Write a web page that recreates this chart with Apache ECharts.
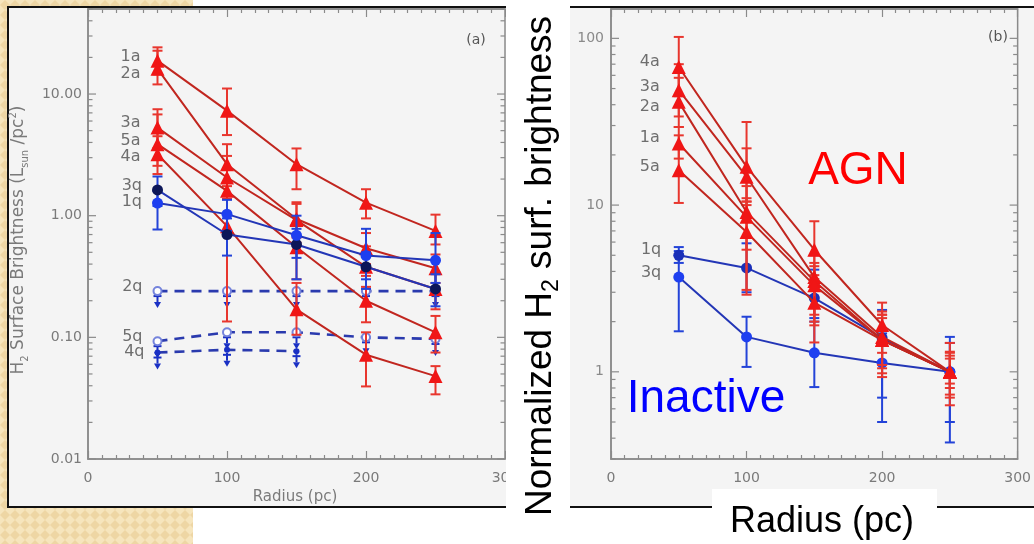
<!DOCTYPE html>
<html><head><meta charset="utf-8">
<script src="https://cdn.jsdelivr.net/npm/echarts@6/dist/echarts.min.js"></script>
<style>html,body{margin:0;padding:0;background:#fff;}#c{width:1034px;height:544px;}</style>
</head><body><div id="c"></div>
<script>
// ---------------- data ----------------
const radius = [50, 100, 150, 200, 250];
const xTickLabels = ['0', '100', '200', '300'];
const yTickLabelsA = ['0.01', '0.10', '1.00', '10.00'];
const yTickLabelsB = ['1', '10', '100'];

// Panel (a): H2 surface brightness (Lsun/pc^2)
const a1a = [18.8, 7.3, 2.65, 1.28, 0.75];
const a1aLo = [14.5, 4.6, 1.65, 0.95, 0.58];
const a1aHi = [24.2, 11.1, 3.57, 1.65, 1.02];
const a2a = [16.1, 2.65, 0.94, 0.54, 0.37];
const a2aLo = [12.0, 1.75, 0.66, 0.40, 0.28];
const a2aHi = [22.7, 3.87, 1.29, 0.72, 0.48];
const a3a = [5.3, 2.06, 0.92, 0.38, 0.25];
const a3aLo = [3.6, 1.37, 0.60, 0.26, 0.17];
const a3aHi = [7.5, 3.1, 1.25, 0.56, 0.34];
const a5a = [3.87, 1.6, 0.55, 0.20, 0.11];
const a5aLo = [2.57, 1.05, 0.30, 0.133, 0.075];
const a5aHi = [6.8, 2.4, 0.85, 0.32, 0.15];
const a4a = [3.2, 0.82, 0.17, 0.072, 0.048];
const a4aLo = [2.2, 0.135, 0.105, 0.0395, 0.034];
const a4aHi = [4.5, 1.37, 0.28, 0.11, 0.058];
const a1q = [1.27, 1.03, 0.69, 0.47, 0.43];
const a1qLo = [0.77, 0.75, 0.45, 0.30, 0.28];
const a1qHi = [1.6, 1.35, 1.0, 0.78, 0.72];
const a3q = [1.63, 0.70, 0.58, 0.38, 0.25];
const a3qLo = [1.2, 0.47, 0.30, 0.25, 0.18];
const a3qHi = [2.1, 0.95, 0.78, 0.50, 0.33];
// upper limits
const a2q = [0.24, 0.24, 0.24, 0.24, 0.24];
const a5q = [0.093, 0.11, 0.11, 0.10, 0.097];
const a4qRadius = [50, 100, 150];
const a4q = [0.075, 0.079, 0.077];

// Panel (b): normalized
const b4a = [67.3, 17, 5.4, 1.91, 1.0];
const b4aLo = [45, 10, 3.6, 1.3, 0.73];
const b4aHi = [102, 31.5, 8, 2.6, 1.32];
const b3a = [48.9, 14.8, 3.7, 1.62, 1.0];
const b3aLo = [34, 10.5, 2.2, 1.1, 0.63];
const b3aHi = [70, 21.9, 5.0, 2.2, 1.49];
const b2a = [41.6, 9.1, 3.5, 1.55, 1.0];
const b2aLo = [29.4, 5.4, 2.0, 0.93, 0.8];
const b2aHi = [58, 13, 4.5, 2.3, 1.25];
const b1a = [23.4, 8.5, 3.3, 1.55, 1.0];
const b1aLo = [19, 3.1, 1.9, 1.05, 0.85];
const b1aHi = [29.4, 11, 4.3, 2.1, 1.2];
const b5a = [16.2, 6.9, 2.6, 1.55, 1.0];
const b5aLo = [10.3, 2.9, 1.5, 0.98, 0.7];
const b5aHi = [26.2, 10.5, 3.8, 2.2, 1.3];
const b1q = [5.0, 4.2, 2.77, 1.6, 1.0];
const b1qLo = [4.5, 3.0, 2.1, 0.7, 0.5];
const b1qHi = [5.6, 5.9, 4.1, 2.35, 1.62];
const b3q = [3.7, 1.62, 1.3, 1.13, 1.0];
const b3qLo = [1.75, 1.07, 0.81, 0.5, 0.377];
const b3qHi = [5.3, 2.14, 2.0, 1.7, 1.49];

// ---------------- styles ----------------
const RED_LINE = '#c1261f', RED_MARK = '#f01616', RED_ERR = '#e8362e';
const BLUE_LINE = '#2336b6', BLUE_MARK = '#1e3ff0', NAVY_MARK = '#0c1658', BLUE_ERR = '#2343d8';
const DASH_BLUE = '#2a3aae', OPEN_BLUE = '#7584dc';
const AXIS_C = '#8a8a8a', TXT_C = '#6e6e6e';
const PANEL_FONT = 'DejaVu Sans';

// ---------------- helpers ----------------
function pts(xs, vs) { return xs.map((x, i) => [x, vs[i]]); }

function errRender(params, api) {
  const x = api.value(0);
  const pLo = api.coord([x, api.value(1)]);
  const pHi = api.coord([x, api.value(2)]);
  const w = 5;
  const st = { stroke: api.visual('color'), lineWidth: 2 };
  return { type: 'group', children: [
    { type: 'line', shape: { x1: pLo[0], y1: pLo[1], x2: pHi[0], y2: pHi[1] }, style: st },
    { type: 'line', shape: { x1: pLo[0] - w, y1: pLo[1], x2: pLo[0] + w, y2: pLo[1] }, style: st },
    { type: 'line', shape: { x1: pHi[0] - w, y1: pHi[1], x2: pHi[0] + w, y2: pHi[1] }, style: st }
  ]};
}
function errSeries(g, xs, lo, hi, color, z) {
  return { type: 'custom', xAxisIndex: g * 2, yAxisIndex: g, renderItem: errRender,
    data: xs.map((x, i) => [x, lo[i], hi[i]]), encode: { x: 0, y: [1, 2] },
    itemStyle: { color }, z, silent: true, clip: false };
}
function arrowRender(params, api) {
  const p = api.coord([api.value(0), api.value(1)]);
  const c = api.visual('color');
  const len = 17, hw = 3.5, hh = 6;
  return { type: 'group', children: [
    { type: 'line', shape: { x1: p[0] - 4, y1: p[1] + 5, x2: p[0] + 4, y2: p[1] + 5 }, style: { stroke: c, lineWidth: 2 } },
    { type: 'line', shape: { x1: p[0], y1: p[1] + 3, x2: p[0], y2: p[1] + len - hh }, style: { stroke: c, lineWidth: 2 } },
    { type: 'polygon', shape: { points: [[p[0] - hw, p[1] + len - hh], [p[0] + hw, p[1] + len - hh], [p[0], p[1] + len]] }, style: { fill: c } }
  ]};
}
function arrowSeries(g, xs, vs, z) {
  return { type: 'custom', xAxisIndex: g * 2, yAxisIndex: g, renderItem: arrowRender,
    data: pts(xs, vs), itemStyle: { color: '#1a30c4' }, z, silent: true, clip: false };
}
function lineSeries(g, name, xs, vs, o) {
  return { type: 'line', name, xAxisIndex: g * 2, yAxisIndex: g,
    symbol: o.symbol, symbolSize: o.size, showAllSymbol: true,
    lineStyle: { color: o.line, width: o.width || 2, type: o.dash || 'solid' },
    itemStyle: { color: o.mark, borderWidth: o.symbol === 'emptyCircle' ? 1.5 : 0 },
    data: xs.map((x, i) => i === 0 ? { value: [x, vs[i]], label: {
      show: true, position: 'left', distance: o.dist, offset: [0, o.off], formatter: name,
      color: TXT_C, fontSize: 16, fontFamily: PANEL_FONT } } : [x, vs[i]]),
    z: o.z, silent: true, clip: false };
}
function logTickValues(min, max) {
  const out = [];
  for (let e = Math.floor(Math.log10(min)); e <= Math.ceil(Math.log10(max)); e++) {
    for (let m = 1; m <= 9; m++) {
      const v = m * Math.pow(10, e);
      if (v >= min * 0.999 && v <= max * 1.001) out.push([0, v, m === 1 ? 1 : 0]);
    }
  }
  return out;
}
function tickRender(params, api) {
  const cs = params.coordSys;
  const y = api.coord([0, api.value(1)])[1];
  const len = api.value(2) ? 8 : 4.5;
  const st = { stroke: AXIS_C, lineWidth: 1.2 };
  return { type: 'group', children: [
    { type: 'line', shape: { x1: cs.x, y1: y, x2: cs.x + len, y2: y }, style: st },
    { type: 'line', shape: { x1: cs.x + cs.width - len, y1: y, x2: cs.x + cs.width, y2: y }, style: st }
  ]};
}
function tickSeries(g, min, max) {
  return { type: 'custom', xAxisIndex: g * 2, yAxisIndex: g, renderItem: tickRender,
    data: logTickValues(min, max), encode: { x: 0, y: 1 }, z: 1, silent: true, clip: false };
}
function xAxes(g) {
  const base = { type: 'value', gridIndex: g, min: 0, max: 300, interval: 100,
    axisLine: { show: true, lineStyle: { color: AXIS_C, width: 1.5 } },
    axisTick: { show: true, inside: true, length: 8, lineStyle: { color: AXIS_C, width: 1.2 } },
    minorTick: { show: true, splitNumber: 10, length: 4, lineStyle: { color: AXIS_C, width: 1.2 } },
    splitLine: { show: false }, minorSplitLine: { show: false } };
  return [
    Object.assign({}, base, { position: 'bottom', axisLabel: { show: true, margin: 12, color: '#7a7a7a', fontSize: 14, fontFamily: PANEL_FONT,
      alignMinLabel: 'center', alignMaxLabel: 'center', hideOverlap: false,
      formatter: v => xTickLabels[Math.round(v / 100)] || '' } }),
    Object.assign({}, base, { position: 'top', axisLabel: { show: false } })
  ];
}
function isDecade(v) { const l = Math.log10(v); return Math.abs(l - Math.round(l)) < 1e-6; }

// checker pattern
const pc = document.createElement('canvas'); pc.width = 10; pc.height = 10;
const pg = pc.getContext('2d');
pg.fillStyle = '#f6e5bd'; pg.fillRect(0, 0, 10, 10);
pg.fillStyle = '#eed6a4';
pg.beginPath(); pg.moveTo(5, 0); pg.lineTo(10, 5); pg.lineTo(5, 10); pg.lineTo(0, 5); pg.closePath(); pg.fill();

// ---------------- series ----------------
const aRed = { line: RED_LINE, mark: RED_MARK, symbol: 'triangle', size: 14, dist: 10 };
const bRed = { line: RED_LINE, mark: RED_MARK, symbol: 'triangle', size: 14, dist: 12 };
const series = [
  tickSeries(0, 0.01, 50), tickSeries(1, 0.3, 150),
  // panel (a) upper limits
  lineSeries(0, '2q', radius, a2q, { line: DASH_BLUE, mark: OPEN_BLUE, symbol: 'emptyCircle', size: 8, dash: [10, 7], width: 2.6, dist: 10, off: -4, z: 2 }),
  lineSeries(0, '5q', radius, a5q, { line: DASH_BLUE, mark: OPEN_BLUE, symbol: 'emptyCircle', size: 8, dash: [10, 7], width: 2.6, dist: 10, off: -4, z: 2 }),
  lineSeries(0, '4q', a4qRadius, a4q, { line: DASH_BLUE, mark: '#1a30c4', symbol: 'circle', size: 6, dash: [10, 7], width: 2.6, dist: 10, off: -1, z: 2 }),
  arrowSeries(0, radius, a2q, 2), arrowSeries(0, radius, a5q, 2), arrowSeries(0, a4qRadius, a4q, 2),
  // panel (a) AGN
  errSeries(0, radius, a1aLo, a1aHi, RED_ERR, 3), errSeries(0, radius, a2aLo, a2aHi, RED_ERR, 3),
  errSeries(0, radius, a3aLo, a3aHi, RED_ERR, 3), errSeries(0, radius, a5aLo, a5aHi, RED_ERR, 3),
  errSeries(0, radius, a4aLo, a4aHi, RED_ERR, 3),
  lineSeries(0, '1a', radius, a1a, Object.assign({}, aRed, { off: -4, z: 4 })),
  lineSeries(0, '2a', radius, a2a, Object.assign({}, aRed, { off: 5, z: 4 })),
  lineSeries(0, '3a', radius, a3a, Object.assign({}, aRed, { off: -5, z: 4 })),
  lineSeries(0, '5a', radius, a5a, Object.assign({}, aRed, { off: -3, z: 4 })),
  lineSeries(0, '4a', radius, a4a, Object.assign({}, aRed, { off: 3, z: 4 })),
  // panel (a) inactive
  errSeries(0, radius, a1qLo, a1qHi, BLUE_ERR, 5), errSeries(0, radius, a3qLo, a3qHi, BLUE_ERR, 5),
  lineSeries(0, '3q', radius, a3q, { line: BLUE_LINE, mark: NAVY_MARK, symbol: 'circle', size: 11, dist: 10, off: -4, z: 6 }),
  lineSeries(0, '1q', radius, a1q, { line: BLUE_LINE, mark: BLUE_MARK, symbol: 'circle', size: 11, dist: 10, off: -1, z: 6 }),
  // panel (b) inactive
  errSeries(1, radius, b1qLo, b1qHi, BLUE_ERR, 3), errSeries(1, radius, b3qLo, b3qHi, BLUE_ERR, 3),
  lineSeries(1, '1q', radius, b1q, { line: BLUE_LINE, mark: '#1a2fb8', symbol: 'circle', size: 11, dist: 12, off: -5, z: 4 }),
  lineSeries(1, '3q', radius, b3q, { line: BLUE_LINE, mark: BLUE_MARK, symbol: 'circle', size: 11, dist: 12, off: -4, z: 4 }),
  // panel (b) AGN
  errSeries(1, radius, b4aLo, b4aHi, RED_ERR, 5), errSeries(1, radius, b3aLo, b3aHi, RED_ERR, 5),
  errSeries(1, radius, b2aLo, b2aHi, RED_ERR, 5), errSeries(1, radius, b1aLo, b1aHi, RED_ERR, 5),
  errSeries(1, radius, b5aLo, b5aHi, RED_ERR, 5),
  lineSeries(1, '4a', radius, b4a, Object.assign({}, bRed, { off: -5, z: 6 })),
  lineSeries(1, '3a', radius, b3a, Object.assign({}, bRed, { off: -3, z: 6 })),
  lineSeries(1, '2a', radius, b2a, Object.assign({}, bRed, { off: 5, z: 6 })),
  lineSeries(1, '1a', radius, b1a, Object.assign({}, bRed, { off: -6, z: 6 })),
  lineSeries(1, '5a', radius, b5a, Object.assign({}, bRed, { off: -3, z: 6 }))
];

const gridBase = { show: true, backgroundColor: 'rgba(0,0,0,0)', borderColor: AXIS_C, borderWidth: 1.5, containLabel: false };
const yBase = { type: 'log', logBase: 10, axisLine: { show: true, lineStyle: { color: AXIS_C, width: 1.5 } },
  axisTick: { show: false }, splitLine: { show: false } };

const option = {
  animation: false,
  backgroundColor: '#ffffff',
  grid: [
    Object.assign({ left: 88, top: 9, width: 417, height: 450 }, gridBase),
    Object.assign({ left: 611, top: 9, width: 414, height: 450 }, gridBase)
  ],
  xAxis: xAxes(0).concat(xAxes(1)),
  yAxis: [
    Object.assign({}, yBase, { gridIndex: 0, min: 0.01, max: 50,
      axisLabel: { margin: 6, color: '#7a7a7a', fontSize: 14, fontFamily: PANEL_FONT,
        formatter: v => { const s = Number(v).toFixed(2); return isDecade(v) && yTickLabelsA.includes(s) ? s : ''; } } }),
    Object.assign({}, yBase, { gridIndex: 1, min: 0.3, max: 150,
      axisLabel: { margin: 7, color: '#8a8a8a', fontSize: 14, fontFamily: PANEL_FONT,
        formatter: v => { const s = String(Math.round(v)); return isDecade(v) && yTickLabelsB.includes(s) ? s : ''; } } })
  ],
  graphic: [
    { type: 'rect', shape: { x: 0, y: 0, width: 193, height: 544 }, style: { fill: { image: pc, repeat: 'repeat' } }, z: -30, silent: true },
    { type: 'rect', shape: { x: 8, y: 7, width: 498, height: 500 }, style: { fill: '#f4f4f4' }, z: -20, silent: true },
    { type: 'rect', shape: { x: 570, y: 7, width: 464, height: 500 }, style: { fill: '#f4f4f4' }, z: -20, silent: true },
    { type: 'rect', shape: { x: 506, y: 0, width: 64, height: 544 }, style: { fill: '#ffffff' }, z: 40, silent: true },
    { type: 'rect', shape: { x: 712, y: 489, width: 225, height: 55 }, style: { fill: '#ffffff' }, z: 40, silent: true },
    { type: 'polyline', shape: { points: [[506, 7], [8, 7], [8, 507], [506, 507]] }, style: { stroke: '#111', lineWidth: 2, fill: null }, z: 41, silent: true },
    { type: 'line', shape: { x1: 570, y1: 7, x2: 1034, y2: 7 }, style: { stroke: '#111', lineWidth: 2 }, z: 41, silent: true },
    { type: 'line', shape: { x1: 570, y1: 507, x2: 712, y2: 507 }, style: { stroke: '#111', lineWidth: 2 }, z: 41, silent: true },
    { type: 'line', shape: { x1: 937, y1: 507, x2: 1034, y2: 507 }, style: { stroke: '#111', lineWidth: 2 }, z: 41, silent: true },
    // panel texts
    { type: 'text', x: 476, y: 40, style: { text: '(a)', fill: '#555', fontSize: 14, fontFamily: PANEL_FONT, align: 'center', verticalAlign: 'middle' }, z: 42, silent: true },
    { type: 'text', x: 998, y: 37, style: { text: '(b)', fill: '#555', fontSize: 14, fontFamily: PANEL_FONT, align: 'center', verticalAlign: 'middle' }, z: 42, silent: true },
    { type: 'text', x: 295, y: 497, style: { text: 'Radius (pc)', fill: '#7a7a7a', fontSize: 15, fontFamily: PANEL_FONT, align: 'center', verticalAlign: 'middle' }, z: 42, silent: true },
    { type: 'text', x: 19, y: 240, rotation: Math.PI / 2,
      style: { text: '{m|H}{s|2}{m| Surface Brightness (L}{s|sun}{m| /pc}{p|2}{m|)}', align: 'center', verticalAlign: 'middle',
        rich: { m: { fontSize: 17, lineHeight: 22, fontFamily: PANEL_FONT, fill: '#7a7a7a' },
                s: { fontSize: 10, lineHeight: 11, verticalAlign: 'bottom', fontFamily: PANEL_FONT, fill: '#7a7a7a' },
                p: { fontSize: 10, lineHeight: 11, verticalAlign: 'top', fontFamily: PANEL_FONT, fill: '#7a7a7a' } } }, z: 42, silent: true },
    // overlay texts
    { type: 'text', x: 541, y: 266, rotation: Math.PI / 2,
      style: { text: '{m|Normalized H}{s|2}{m| surf. brightness}', align: 'center', verticalAlign: 'middle',
        rich: { m: { fontSize: 37, lineHeight: 44, fontFamily: 'Liberation Sans', fill: '#000' },
                s: { fontSize: 23, lineHeight: 23, verticalAlign: 'bottom', fontFamily: 'Liberation Sans', fill: '#000' } } }, z: 45, silent: true },
    { type: 'text', x: 822, y: 522, style: { text: 'Radius (pc)', fill: '#000', fontSize: 36, fontFamily: 'Liberation Sans', align: 'center', verticalAlign: 'middle' }, z: 45, silent: true },
    { type: 'text', x: 858, y: 171, style: { text: 'AGN', fill: '#ff0000', fontSize: 46, fontFamily: 'Liberation Sans', align: 'center', verticalAlign: 'middle' }, z: 45, silent: true },
    { type: 'text', x: 706, y: 399, style: { text: 'Inactive', fill: '#0000ff', fontSize: 46, fontFamily: 'Liberation Sans', align: 'center', verticalAlign: 'middle' }, z: 45, silent: true }
  ],
  series
};
const chart = echarts.init(document.getElementById('c'), null, { renderer: 'canvas', width: 1034, height: 544 });
chart.setOption(option);
</script></body></html>
